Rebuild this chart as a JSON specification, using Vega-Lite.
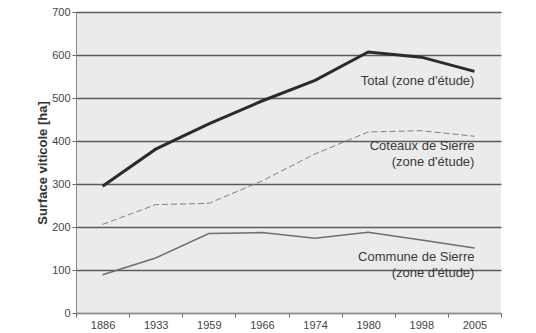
{
  "$schema": "https://vega.github.io/schema/vega-lite/v6.json",
  "autosize": {"type": "none"},
  "width": 425,
  "height": 301,
  "padding": {"left": 76, "top": 12, "right": 35, "bottom": 20},
  "background": "white",
  "config": {
    "font": "Liberation Sans",
    "view": {"fill": "#ebebeb", "stroke": null}
  },
  "datasets": {
    "series": [
      {"year": "1886", "serie": "Total", "value": 295},
      {"year": "1933", "serie": "Total", "value": 381},
      {"year": "1959", "serie": "Total", "value": 440},
      {"year": "1966", "serie": "Total", "value": 493},
      {"year": "1974", "serie": "Total", "value": 541},
      {"year": "1980", "serie": "Total", "value": 607},
      {"year": "1998", "serie": "Total", "value": 595},
      {"year": "2005", "serie": "Total", "value": 562},
      {"year": "1886", "serie": "Coteaux", "value": 206},
      {"year": "1933", "serie": "Coteaux", "value": 252},
      {"year": "1959", "serie": "Coteaux", "value": 255},
      {"year": "1966", "serie": "Coteaux", "value": 307},
      {"year": "1974", "serie": "Coteaux", "value": 370},
      {"year": "1980", "serie": "Coteaux", "value": 421},
      {"year": "1998", "serie": "Coteaux", "value": 424},
      {"year": "2005", "serie": "Coteaux", "value": 411},
      {"year": "1886", "serie": "Commune", "value": 89},
      {"year": "1933", "serie": "Commune", "value": 128},
      {"year": "1959", "serie": "Commune", "value": 185},
      {"year": "1966", "serie": "Commune", "value": 187},
      {"year": "1974", "serie": "Commune", "value": 174},
      {"year": "1980", "serie": "Commune", "value": 188},
      {"year": "1998", "serie": "Commune", "value": 170},
      {"year": "2005", "serie": "Commune", "value": 151}
    ],
    "labels": [
      {"year": "2005", "y": 539, "label": "Total (zone d'étude)"},
      {"year": "2005", "y": 388, "label": "Coteaux de Sierre"},
      {"year": "2005", "y": 351, "label": "(zone d'étude)"},
      {"year": "2005", "y": 130, "label": "Commune de Sierre"},
      {"year": "2005", "y": 93, "label": "(zone d'étude)"}
    ]
  },
  "encoding": {
    "x": {
      "field": "year", "type": "ordinal",
      "scale": {"type": "band", "paddingInner": 0, "paddingOuter": 0},
      "axis": {
        "title": null, "labelAngle": 0, "tickBand": "extent",
        "domainColor": "#888", "tickColor": "#666", "tickSize": 4,
        "labelFontSize": 11, "labelColor": "#444", "labelPadding": 2,
        "grid": false
      }
    }
  },
  "layer": [
    {
      "data": {"name": "series"},
      "transform": [{"filter": "datum.serie === 'Commune'"}],
      "mark": {"type": "line", "color": "#6e6e6e", "strokeWidth": 1.5},
      "encoding": {
        "y": {
          "field": "value", "type": "quantitative",
          "scale": {"domain": [0, 700]},
          "axis": {
            "title": "Surface viticole [ha]", "titleFontSize": 13, "titleFontWeight": "bold",
            "titleColor": "#333", "titlePadding": 2,
            "values": [0, 100, 200, 300, 400, 500, 600, 700],
            "domainColor": "#888", "tickColor": "#666", "tickSize": 4,
            "labelFontSize": 11, "labelColor": "#444", "labelPadding": 2,
            "grid": true, "gridColor": "#5c5c5c", "gridWidth": 1.4
          }
        }
      }
    },
    {
      "data": {"name": "series"},
      "transform": [{"filter": "datum.serie === 'Coteaux'"}],
      "mark": {"type": "line", "color": "#808080", "strokeWidth": 1, "strokeDash": [6, 3]},
      "encoding": {
        "y": {"field": "value", "type": "quantitative"}
      }
    },
    {
      "data": {"name": "series"},
      "transform": [{"filter": "datum.serie === 'Total'"}],
      "mark": {"type": "line", "color": "#2b2b2b", "strokeWidth": 3},
      "encoding": {
        "y": {"field": "value", "type": "quantitative"}
      }
    },
    {
      "data": {"name": "labels"},
      "mark": {"type": "text", "align": "right", "baseline": "middle", "fontSize": 13, "color": "#3a3a3a"},
      "encoding": {
        "y": {"field": "y", "type": "quantitative"},
        "text": {"field": "label"}
      }
    }
  ]
}
